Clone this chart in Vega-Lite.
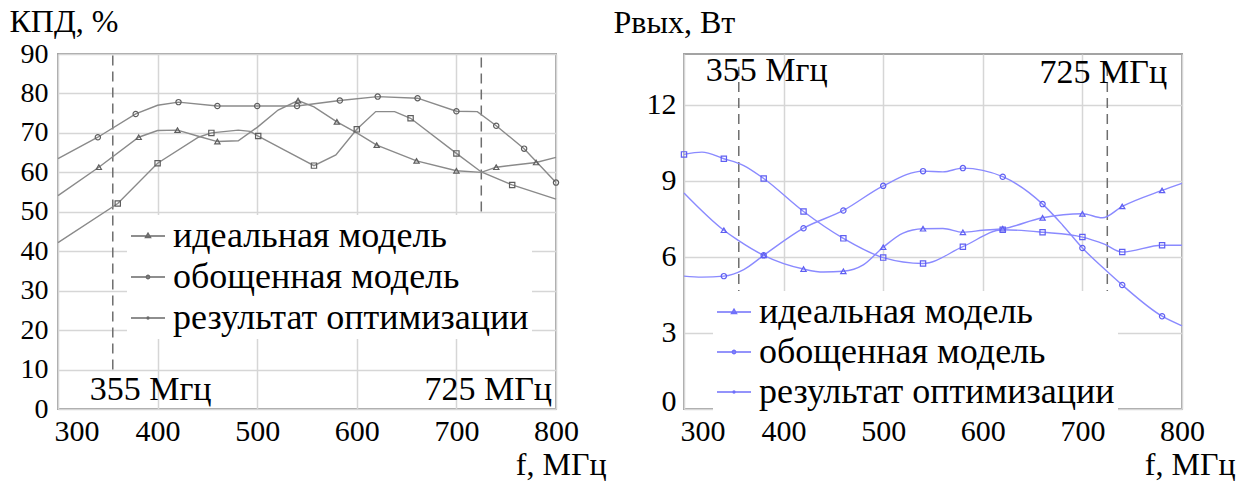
{
  "$schema": "https://vega.github.io/schema/vega-lite/v6.json",
  "background": "white",
  "padding": {"left": 8, "top": 4, "right": 5, "bottom": 0},
  "bounds": "flush",
  "spacing": 128,
  "config": {
    "font": "Liberation Serif",
    "view": {"stroke": "#a3a3a3", "strokeWidth": 2},
    "axis": {
      "labelFont": "Liberation Serif", "labelColor": "black", "labelFontSize": 30,
      "titleFont": "Liberation Serif", "titleColor": "black", "titleFontSize": 32, "titleFontWeight": "normal",
      "grid": true, "gridColor": "#d6d6d6", "gridWidth": 1.5, "ticks": false, "domain": false, "labelOverlap": false, "labelBound": false, "labelSeparation": 0
    }
  },
  "datasets": {
    "eff": [
      {"f":300,"v":54.1,"s":"идеальная модель","m":0},{"f":341,"v":61.3,"s":"идеальная модель","m":1},{"f":381,"v":68.9,"s":"идеальная модель","m":1},{"f":400,"v":70.6,"s":"идеальная модель","m":0},{"f":420,"v":70.7,"s":"идеальная модель","m":1},{"f":440,"v":69.2,"s":"идеальная модель","m":0},{"f":460,"v":67.8,"s":"идеальная модель","m":1},{"f":481,"v":68.0,"s":"идеальная модель","m":0},{"f":500,"v":71.4,"s":"идеальная модель","m":0},{"f":521,"v":75.8,"s":"идеальная модель","m":0},{"f":541,"v":78.2,"s":"идеальная модель","m":1},{"f":557,"v":76.6,"s":"идеальная модель","m":0},{"f":580,"v":72.8,"s":"идеальная модель","m":1},{"f":600,"v":70.0,"s":"идеальная модель","m":0},{"f":620,"v":66.9,"s":"идеальная модель","m":1},{"f":660,"v":62.9,"s":"идеальная модель","m":1},{"f":700,"v":60.4,"s":"идеальная модель","m":1},{"f":725,"v":60.0,"s":"идеальная модель","m":0},{"f":740,"v":61.3,"s":"идеальная модель","m":1},{"f":780,"v":62.5,"s":"идеальная модель","m":1},{"f":800,"v":63.8,"s":"идеальная модель","m":0},
      {"f":300,"v":42.2,"s":"обощенная модель","m":0},{"f":360,"v":52.1,"s":"обощенная модель","m":1},{"f":400,"v":62.3,"s":"обощенная модель","m":1},{"f":441,"v":68.9,"s":"обощенная модель","m":0},{"f":454,"v":70.0,"s":"обощенная модель","m":1},{"f":481,"v":70.7,"s":"обощенная модель","m":0},{"f":493,"v":70.4,"s":"обощенная модель","m":0},{"f":501,"v":69.2,"s":"обощенная модель","m":1},{"f":527,"v":65.7,"s":"обощенная модель","m":0},{"f":557,"v":61.7,"s":"обощенная модель","m":1},{"f":579,"v":64.4,"s":"обощенная модель","m":0},{"f":600,"v":70.9,"s":"обощенная модель","m":1},{"f":619,"v":75.4,"s":"обощенная модель","m":0},{"f":638,"v":75.4,"s":"обощенная модель","m":0},{"f":654,"v":73.7,"s":"обощенная модель","m":1},{"f":700,"v":64.8,"s":"обощенная модель","m":1},{"f":725,"v":60.1,"s":"обощенная модель","m":0},{"f":756,"v":56.8,"s":"обощенная модель","m":1},{"f":800,"v":53.2,"s":"обощенная модель","m":0},
      {"f":300,"v":63.5,"s":"результат оптимизации","m":0},{"f":340,"v":68.9,"s":"результат оптимизации","m":1},{"f":378,"v":74.8,"s":"результат оптимизации","m":1},{"f":400,"v":77.0,"s":"результат оптимизации","m":0},{"f":421,"v":77.8,"s":"результат оптимизации","m":1},{"f":460,"v":76.8,"s":"результат оптимизации","m":1},{"f":500,"v":76.8,"s":"результат оптимизации","m":1},{"f":540,"v":76.8,"s":"результат оптимизации","m":1},{"f":583,"v":78.2,"s":"результат оптимизации","m":1},{"f":621,"v":79.2,"s":"результат оптимизации","m":1},{"f":661,"v":78.8,"s":"результат оптимизации","m":1},{"f":700,"v":75.5,"s":"результат оптимизации","m":1},{"f":721,"v":75.4,"s":"результат оптимизации","m":0},{"f":740,"v":71.8,"s":"результат оптимизации","m":1},{"f":768,"v":66.0,"s":"результат оптимизации","m":1},{"f":800,"v":57.4,"s":"результат оптимизации","m":1}
    ],
    "pow": [
      {"f":300,"v":8.52,"s":"идеальная модель","m":0},{"f":340,"v":7.05,"s":"идеальная модель","m":1},{"f":353,"v":6.69,"s":"идеальная модель","m":0},{"f":380,"v":6.06,"s":"идеальная модель","m":1},{"f":420,"v":5.52,"s":"идеальная модель","m":1},{"f":440,"v":5.4,"s":"идеальная модель","m":0},{"f":460,"v":5.43,"s":"идеальная модель","m":1},{"f":480,"v":5.68,"s":"идеальная модель","m":0},{"f":500,"v":6.38,"s":"идеальная модель","m":1},{"f":520,"v":6.94,"s":"идеальная модель","m":0},{"f":540,"v":7.11,"s":"идеальная модель","m":1},{"f":560,"v":7.12,"s":"идеальная модель","m":0},{"f":580,"v":6.97,"s":"идеальная модель","m":1},{"f":600,"v":7.05,"s":"идеальная модель","m":0},{"f":620,"v":7.11,"s":"идеальная модель","m":1},{"f":660,"v":7.54,"s":"идеальная модель","m":1},{"f":700,"v":7.70,"s":"идеальная модель","m":1},{"f":720,"v":7.54,"s":"идеальная модель","m":0},{"f":740,"v":7.99,"s":"идеальная модель","m":1},{"f":780,"v":8.62,"s":"идеальная модель","m":1},{"f":800,"v":8.90,"s":"идеальная модель","m":0},
      {"f":300,"v":10.04,"s":"обощенная модель","m":1},{"f":318,"v":10.13,"s":"обощенная модель","m":0},{"f":340,"v":9.87,"s":"обощенная модель","m":1},{"f":360,"v":9.6,"s":"обощенная модель","m":0},{"f":380,"v":9.09,"s":"обощенная модель","m":1},{"f":420,"v":7.79,"s":"обощенная модель","m":1},{"f":460,"v":6.73,"s":"обощенная модель","m":1},{"f":500,"v":5.97,"s":"обощенная модель","m":1},{"f":540,"v":5.74,"s":"обощенная модель","m":1},{"f":580,"v":6.40,"s":"обощенная модель","m":1},{"f":620,"v":7.07,"s":"обощенная модель","m":1},{"f":660,"v":6.97,"s":"обощенная модель","m":1},{"f":700,"v":6.78,"s":"обощенная модель","m":1},{"f":722,"v":6.50,"s":"обощенная модель","m":0},{"f":740,"v":6.19,"s":"обощенная модель","m":1},{"f":780,"v":6.46,"s":"обощенная модель","m":1},{"f":800,"v":6.46,"s":"обощенная модель","m":0},
      {"f":300,"v":5.24,"s":"результат оптимизации","m":0},{"f":318,"v":5.2,"s":"результат оптимизации","m":0},{"f":340,"v":5.24,"s":"результат оптимизации","m":1},{"f":360,"v":5.5,"s":"результат оптимизации","m":0},{"f":380,"v":6.06,"s":"результат оптимизации","m":1},{"f":420,"v":7.13,"s":"результат оптимизации","m":1},{"f":460,"v":7.83,"s":"результат оптимизации","m":1},{"f":500,"v":8.80,"s":"результат оптимизации","m":1},{"f":540,"v":9.38,"s":"результат оптимизации","m":1},{"f":560,"v":9.35,"s":"результат оптимизации","m":0},{"f":580,"v":9.50,"s":"результат оптимизации","m":1},{"f":620,"v":9.16,"s":"результат оптимизации","m":1},{"f":660,"v":8.08,"s":"результат оптимизации","m":1},{"f":680,"v":7.26,"s":"результат оптимизации","m":0},{"f":700,"v":6.35,"s":"результат оптимизации","m":1},{"f":723,"v":5.49,"s":"результат оптимизации","m":0},{"f":740,"v":4.89,"s":"результат оптимизации","m":1},{"f":780,"v":3.66,"s":"результат оптимизации","m":1},{"f":800,"v":3.28,"s":"результат оптимизации","m":0}
    ]
  },
  "hconcat": [
    {
      "width": 498, "height": 355,
      "data": {"name": "eff"},
      "layer": [
        {
          "data": {"values": [{"f":355,"v":10,"v2":90},{"f":725,"v":46,"v2":90}]},
          "mark": {"type": "rule", "color": "#6e6e6e", "strokeWidth": 1.5, "strokeDash": [10, 6]},
          "encoding": {
            "x": {"field": "f", "type": "quantitative", "scale": {"domain": [300, 800]},
              "axis": {"title": "f, МГц", "values": [300,400,500,600,700,800], "labelFlush": false, "labelOverlap": false, "labelPadding": 7,
                "labelAlign": {"condition": {"test": "datum.value == 300", "value": "left"}, "value": "center"},
                "labelOffset": {"condition": {"test": "datum.value == 300", "value": -4}, "value": 0},
                "titleAlign": "right", "titleX": 548, "titleY": 65, "titleBaseline": "alphabetic"}},
            "y": {"field": "v", "type": "quantitative", "scale": {"domain": [0, 90]},
              "axis": {"title": "КПД, %", "values": [0,10,20,30,40,50,60,70,80,90], "tickCount": 10, "labelOverlap": false, "labelSeparation": 0, "labelFontSize": 28, "labelPadding": 10,
                "titleAngle": 0, "titleAlign": "left", "titleX": -49, "titleY": -23, "titleBaseline": "alphabetic"}},
            "y2": {"field": "v2"}
          }
        },
        {
          "mark": {"type": "line", "color": "#8a8a8a", "strokeWidth": 1.4},
          "encoding": {
            "x": {"field": "f", "type": "quantitative"},
            "y": {"field": "v", "type": "quantitative"},
            "detail": {"field": "s", "type": "nominal"}
          }
        },
        {
          "transform": [{"filter": "datum.m == 1"}],
          "mark": {"type": "point", "filled": false, "color": "#5e5e5e", "strokeWidth": 1.2, "size": 28, "opacity": 1},
          "encoding": {
            "x": {"field": "f", "type": "quantitative"},
            "y": {"field": "v", "type": "quantitative"},
            "shape": {"field": "s", "type": "nominal",
              "scale": {"domain": ["идеальная модель", "обощенная модель", "результат оптимизации"], "range": ["triangle-up", "square", "circle"]},
              "legend": null}
          }
        },
        {
          "transform": [{"filter": "false"}],
          "mark": {"type": "point", "filled": false, "color": "#6a6a6a", "strokeWidth": 1.4, "size": 1156, "opacity": 1},
          "encoding": {
            "x": {"field": "f", "type": "quantitative"},
            "y": {"field": "v", "type": "quantitative"},
            "shape": {"field": "s", "type": "nominal",
              "scale": {"domain": ["идеальная модель", "обощенная модель", "результат оптимизации"],
                "range": ["M-1,0H1M0,-0.17L0.15,0.09L-0.15,0.09Z", "M-1,0H1M0.1,0A0.1,0.1,0,1,1,-0.1,0A0.1,0.1,0,1,1,0.1,0Z", "M-1,0H1M0.06,0A0.06,0.06,0,1,1,-0.06,0A0.06,0.06,0,1,1,0.06,0Z"]},
              "legend": {"title": null, "orient": "none", "legendX": 69, "legendY": 161, "padding": 3, "fillColor": "white",
                "labelFont": "Liberation Serif", "labelFontSize": 36, "labelColor": "black", "labelLimit": 800, "labelOffset": 7,
                "rowPadding": 5, "symbolSize": 1156, "symbolStrokeColor": "#6a6a6a", "symbolStrokeWidth": 1.4, "symbolOpacity": 1}}
          }
        },
        {
          "data": {"values": [{"f":393,"v":2.3,"t":"355 Мгц"},{"f":732,"v":2.3,"t":"725 МГц"}]},
          "mark": {"type": "text", "font": "Liberation Serif", "fontSize": 34, "color": "black", "align": "center", "baseline": "alphabetic"},
          "encoding": {
            "x": {"field": "f", "type": "quantitative"},
            "y": {"field": "v", "type": "quantitative"},
            "text": {"field": "t"}
          }
        }
      ],
      "resolve": {"scale": {"shape": "independent"}, "legend": {"shape": "independent"}}
    },
    {
      "width": 498, "height": 355,
      "data": {"name": "pow"},
      "layer": [
        {
          "data": {"values": [{"f":355,"v":4.3,"v2":13.5},{"f":725,"v":4.3,"v2":13.5}]},
          "mark": {"type": "rule", "color": "#6e6e6e", "strokeWidth": 1.5, "strokeDash": [10, 6]},
          "encoding": {
            "x": {"field": "f", "type": "quantitative", "scale": {"domain": [300, 800]},
              "axis": {"title": "f, МГц", "values": [300,400,500,600,700,800], "labelFlush": false, "labelOverlap": false, "labelPadding": 7,
                "labelAlign": {"condition": {"test": "datum.value == 300", "value": "left"}, "value": "center"},
                "labelOffset": {"condition": {"test": "datum.value == 300", "value": -4}, "value": 0},
                "titleAlign": "right", "titleX": 551, "titleY": 65, "titleBaseline": "alphabetic"}},
            "y": {"field": "v", "type": "quantitative", "scale": {"domain": [0, 13.5]},
              "axis": {"title": "Pвых, Вт", "values": [0,1.5,3,4.5,6,7.5,9,10.5,12,13.5], "labelOverlap": false, "labelPadding": 8,
                "labelExpr": "datum.value % 3 == 0 ? datum.label : ''",
                "labelOffset": {"condition": {"test": "datum.value == 0", "value": -8}, "value": 0},
                "titleAngle": 0, "titleAlign": "left", "titleX": -71, "titleY": -22, "titleBaseline": "alphabetic"}},
            "y2": {"field": "v2"}
          }
        },
        {
          "mark": {"type": "line", "color": "#8a8aff", "strokeWidth": 1.4, "interpolate": "monotone"},
          "encoding": {
            "x": {"field": "f", "type": "quantitative"},
            "y": {"field": "v", "type": "quantitative"},
            "detail": {"field": "s", "type": "nominal"}
          }
        },
        {
          "transform": [{"filter": "datum.m == 1"}],
          "mark": {"type": "point", "filled": false, "color": "#5f5ff2", "strokeWidth": 1.2, "size": 28, "opacity": 1},
          "encoding": {
            "x": {"field": "f", "type": "quantitative"},
            "y": {"field": "v", "type": "quantitative"},
            "shape": {"field": "s", "type": "nominal",
              "scale": {"domain": ["идеальная модель", "обощенная модель", "результат оптимизации"], "range": ["triangle-up", "square", "circle"]},
              "legend": null}
          }
        },
        {
          "transform": [{"filter": "false"}],
          "mark": {"type": "point", "filled": false, "color": "#7070fa", "strokeWidth": 1.4, "size": 1156, "opacity": 1},
          "encoding": {
            "x": {"field": "f", "type": "quantitative"},
            "y": {"field": "v", "type": "quantitative"},
            "shape": {"field": "s", "type": "nominal",
              "scale": {"domain": ["идеальная модель", "обощенная модель", "результат оптимизации"],
                "range": ["M-1,0H1M0,-0.17L0.15,0.09L-0.15,0.09Z", "M-1,0H1M0.1,0A0.1,0.1,0,1,1,-0.1,0A0.1,0.1,0,1,1,0.1,0Z", "M-1,0H1M0.06,0A0.06,0.06,0,1,1,-0.06,0A0.06,0.06,0,1,1,0.06,0Z"]},
              "legend": {"title": null, "orient": "none", "legendX": 29, "legendY": 237, "padding": 3, "fillColor": "white",
                "labelFont": "Liberation Serif", "labelFontSize": 36, "labelColor": "black", "labelLimit": 800, "labelOffset": 7,
                "rowPadding": 4, "symbolSize": 1156, "symbolStrokeColor": "#7070fa", "symbolStrokeWidth": 1.4, "symbolOpacity": 1}}
          }
        },
        {
          "data": {"values": [{"f":383,"v":12.95,"t":"355 Мгц"},{"f":721,"v":12.85,"t":"725 МГц"}]},
          "mark": {"type": "text", "font": "Liberation Serif", "fontSize": 34, "color": "black", "align": "center", "baseline": "alphabetic"},
          "encoding": {
            "x": {"field": "f", "type": "quantitative"},
            "y": {"field": "v", "type": "quantitative"},
            "text": {"field": "t"}
          }
        }
      ],
      "resolve": {"scale": {"shape": "independent"}, "legend": {"shape": "independent"}}
    }
  ],
  "resolve": {"scale": {"shape": "independent"}, "legend": {"shape": "independent"}}
}
